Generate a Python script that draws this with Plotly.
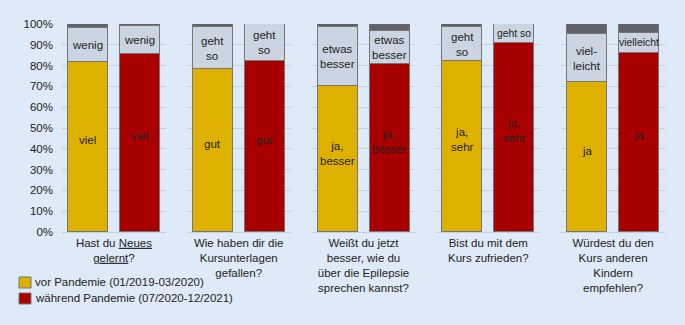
import plotly.graph_objects as go
from plotly.subplots import make_subplots

categories = [
    "Hast du <span style='text-decoration:underline'>Neues</span><br><span style='text-decoration:underline'>gelernt</span>?",
    "Wie haben dir die<br>Kursunterlagen<br>gefallen?",
    "Weißt du jetzt<br>besser, wie du<br>über die Epilepsie<br>sprechen kannst?",
    "Bist du mit dem<br>Kurs zufrieden?",
    "Würdest du den<br>Kurs anderen<br>Kindern<br>empfehlen?",
]
series_names = ["vor Pandemie (01/2019-03/2020)", "während Pandemie (07/2020-12/2021)"]

vor_main = [81.7, 78.3, 70.3, 82.3, 71.9]
vor_mid = [16.5, 20.3, 28.3, 16.1, 23.4]
vor_top = [1.8, 1.4, 1.4, 1.6, 4.7]
waehrend_main = [85.6, 82.2, 80.7, 90.8, 86.3]
waehrend_mid = [13.3, 17.8, 15.7, 9.2, 9.2]
waehrend_top = [1.1, 0.0, 3.6, 0.0, 4.5]

vor_main_labels = ["viel", "gut", "ja,<br>besser", "ja,<br>sehr", "ja"]
vor_mid_labels = ["wenig", "geht<br>so", "etwas<br>besser", "geht<br>so", "viel-<br>leicht"]
waehrend_main_labels = ["viel", "gut", "ja,<br>besser", "ja,<br>sehr", "ja"]
waehrend_mid_labels = ["wenig", "geht<br>so", "etwas<br>besser", "geht so", "vielleicht"]

tick_vals = [0, 10, 20, 30, 40, 50, 60, 70, 80, 90, 100]

YELLOW = "#DEB100"
RED = "#A80000"
LIGHT = "#CAD5E1"
DARK = "#606268"
OUTLINE = "#767676"
BG = "#DEEAF7"
GRID = "#C5D0DC"
TXT = "#222222"
FONT = "Liberation Sans, Arial, sans-serif"
FS = 11.5

n = len(categories)
fig = make_subplots(rows=1, cols=n, shared_yaxes=True, horizontal_spacing=0.0348)

for i in range(n):
    c = i + 1
    segs = [
        ([vor_main[i], waehrend_main[i]], [YELLOW, RED]),
        ([vor_mid[i], waehrend_mid[i]], [LIGHT, LIGHT]),
        ([vor_top[i], waehrend_top[i]], [DARK, DARK]),
    ]
    for vals, cols in segs:
        fig.add_trace(
            go.Bar(
                x=[0, 1], y=vals, width=0.77,
                marker=dict(color=cols, line=dict(color=OUTLINE, width=1)),
                showlegend=False, hoverinfo="skip",
            ),
            row=1, col=c,
        )
    xr = "x" if c == 1 else f"x{c}"
    yr = "y" if c == 1 else f"y{c}"
    bars = [
        (0, vor_main[i], vor_mid[i], vor_main_labels[i], vor_mid_labels[i]),
        (1, waehrend_main[i], waehrend_mid[i], waehrend_main_labels[i], waehrend_mid_labels[i]),
    ]
    for xpos, m, md, ml, mdl in bars:
        fig.add_annotation(x=xpos, y=0.54 * m, xref=xr, yref=yr, text=ml, showarrow=False,
                           font=dict(family=FONT, size=FS, color=TXT))
        small = ("<br>" not in mdl) and len(mdl) > 6
        fig.add_annotation(x=xpos, y=m + md / 2, xref=xr, yref=yr, text=mdl, showarrow=False,
                           font=dict(family=FONT, size=10.4 if small else FS, color=TXT))
    fig.update_xaxes(
        row=1, col=c, range=[-0.5, 1.5], tickvals=[0.5], ticktext=[categories[i]],
        showgrid=False, zeroline=False, showline=True, linecolor=GRID, linewidth=1,
        ticks="", tickfont=dict(family=FONT, size=FS, color=TXT), fixedrange=True,
    )
    fig.update_yaxes(
        row=1, col=c, range=[0, 100], tickvals=tick_vals,
        ticktext=[f"{v}%" for v in tick_vals], showgrid=True, gridcolor=GRID, gridwidth=1,
        zeroline=False, showline=False, ticks="",
        tickfont=dict(family=FONT, size=FS, color=TXT), fixedrange=True,
    )

fig.update_yaxes(row=1, col=1, ticklabelstandoff=8)

# legend
leg_colors = [YELLOW, RED]
for k, (name, col) in enumerate(zip(series_names, leg_colors)):
    y0 = -0.2163 - k * 0.077
    fig.add_shape(type="rect", xref="paper", yref="paper",
                  x0=-0.0713, x1=-0.0514, y0=y0, y1=y0 - 0.0529,
                  fillcolor=col, line=dict(color=OUTLINE, width=1))
    fig.add_annotation(xref="paper", yref="paper", x=-0.0481, y=y0 - 0.0264,
                       xanchor="left", yanchor="middle", text=name, showarrow=False,
                       font=dict(family=FONT, size=FS, color=TXT))

fig.update_layout(
    barmode="stack", width=685, height=325,
    margin=dict(l=62, r=20, t=24, b=93),
    paper_bgcolor=BG, plot_bgcolor=BG, showlegend=False,
    font=dict(family=FONT, size=FS, color=TXT),
    bargap=0,
)

fig.write_html(
    "out.html",
    config={"displayModeBar": False},
    post_script="document.body.style.margin='0';document.body.style.background='" + BG + "';",
)
